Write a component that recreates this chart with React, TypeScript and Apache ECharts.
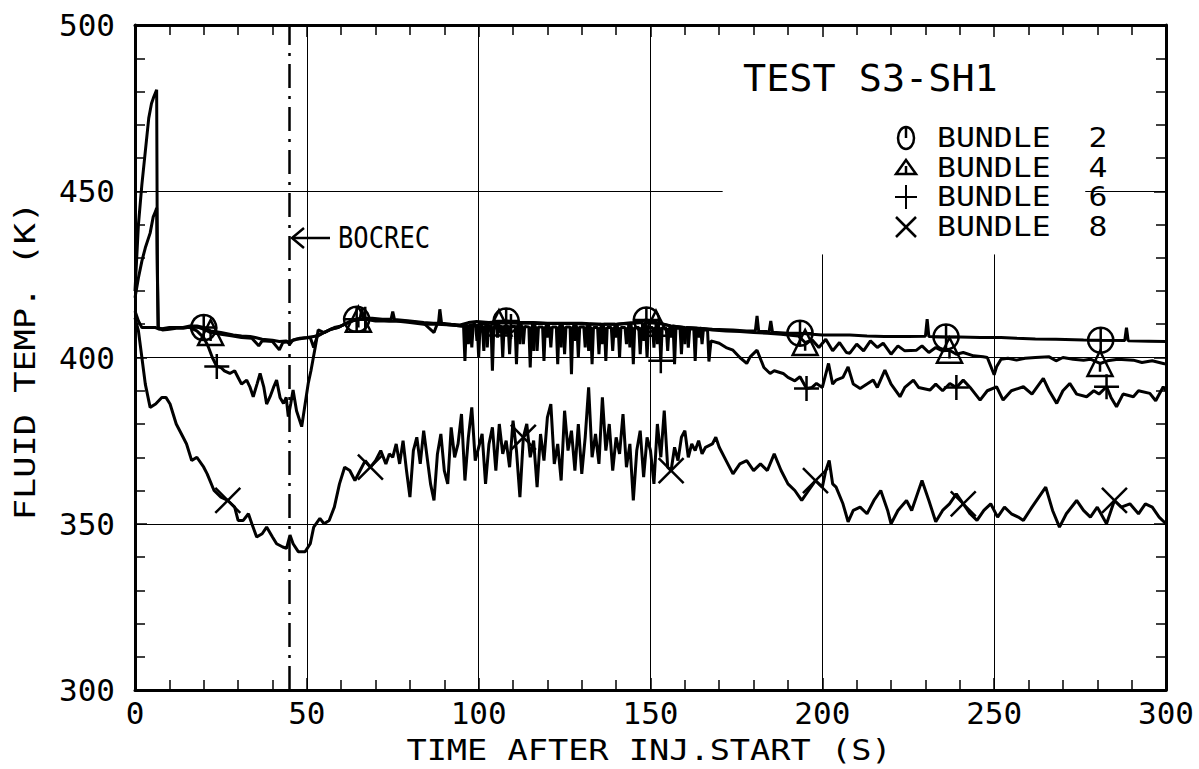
import React, { useEffect, useRef } from "react";
import * as echarts from "echarts";

const FONT = '"DejaVu Sans Mono", monospace';

// ---- data (time s, fluid temperature K) ----
const bundle2: number[][] = [
  [0, 420], [1, 440], [2, 452], [3, 462], [4, 472], [4.8, 476.4], [5.5, 478.5], [6.3, 480.5], [6.5, 430], [6.7, 408.9],
  [8, 408.5], [10, 408.7], [12, 409], [14, 409], [16, 409.5], [18, 409.5], [20, 409], [22, 408], [25, 407.5], [28.6, 406.8],
  [31, 406.5], [33.5, 406.3], [35, 406], [37, 405.5], [40, 405.2], [42, 404.8], [44, 405], [45, 404], [46, 405.3], [48, 405.8],
  [50, 406], [52, 406.3], [54, 407], [56, 408], [58, 409], [60, 409.5], [62, 410.5], [64.5, 411.5], [65.5, 411.8], [66, 414.5],
  [66.5, 411.8], [69, 411.8], [72, 411.5], [74.5, 411.5], [75, 413.8], [75.5, 411.4], [77, 411.3], [80, 411], [84, 410.5], [86.8, 410.3],
  [88.3, 410.3], [88.7, 414.5], [89.2, 410.3], [92, 410], [94.6, 409.8], [97, 410.5], [99.4, 410.8], [103, 410.5], [108, 411], [112, 410.5],
  [116, 410.5], [120, 410.3], [125.6, 410.3], [130, 410.3], [135, 410], [140, 410], [145, 410.5], [148.8, 411.3], [152, 410.5], [156, 409.5],
  [160, 409], [164, 408.8], [168, 408.5], [174, 408.3], [178, 408], [180.5, 408], [181, 412.5], [181.5, 407.8], [183.7, 407.8], [184.5, 407.7],
  [185, 411], [185.5, 407.6], [190, 407.3], [193.5, 407.3], [197, 407], [200, 406.8], [205, 406.8], [208, 406.8], [213, 406.5], [218, 406.3],
  [225, 406.3], [230, 406.4], [230.5, 411.5], [231, 406.3], [236, 406.2], [240, 406.2], [246, 406], [252, 406], [256.5, 405.8], [262, 405.6],
  [268, 405.5], [276, 405.3], [281, 405.2], [288, 405.1], [288.5, 409], [289, 405], [295, 404.9], [300, 404.8],
];

const bundle4: number[][] = [
  [0, 418], [1, 424], [2, 429], [3, 433], [4.4, 437.4], [5.3, 442.3], [6, 444], [6.3, 445], [6.5, 425], [6.8, 409],
  [8, 408.3], [10, 408.5], [12, 408.8], [14, 408.8], [16, 409.2], [18, 409.2], [20, 408.5], [22, 407.5], [25, 407], [28, 406.5],
  [31, 406], [34, 405.8], [36, 403.5], [37, 405], [40, 404.8], [42, 402.3], [43, 404.5], [45, 404.8], [47, 405.5], [49, 405.8],
  [51, 406], [52, 403], [53, 406.3], [55, 407.5], [57, 408.5], [59, 409], [61, 410], [63, 411], [65, 411.5], [68, 411.5],
  [71, 411.3], [74, 411], [77, 411], [80, 410.8], [84, 410.3], [87, 407.5], [88, 410.2], [92, 409.8], [95, 409.5],
  [96.6, 409.8], [97, 404], [97.4, 409.8], [99.1, 410], [99.5, 405], [99.9, 410], [102.1, 410.2], [102.5, 403], [102.9, 410.2],
  [105.1, 410.4], [105.5, 406], [105.9, 410.4], [111.6, 410.3], [112, 404], [112.4, 410.3], [115.6, 410.3], [116, 402], [116.4, 410.3],
  [119.6, 410.2], [120, 406], [120.4, 410.2], [123.6, 410.2], [124, 403], [124.4, 410.2], [127.6, 410.2], [128, 405], [128.4, 410.2],
  [131.6, 410], [132, 402], [132.4, 410], [135.6, 410], [136, 404], [136.4, 410], [139.6, 410], [140, 406], [140.4, 410],
  [143.6, 410.2], [144, 403], [144.4, 410.2], [147.6, 410.5], [148, 405], [148.4, 410.5], [151.6, 410.3], [152, 404], [152.4, 410.3],
  [155.6, 409.5], [156, 406], [156.4, 409.5], [159.6, 409], [160, 404], [160.4, 409], [163.6, 408.8], [164, 406], [164.4, 408.8],
  [168, 408.3], [172, 408], [176, 407.8], [180, 407.5], [184, 407.3],
  [188, 407], [190, 406.8], [193, 406.5], [195, 404.5], [197, 405.3], [199, 403], [201, 405.5], [203, 402], [205, 404.5], [207, 401.5],
  [208, 401.3], [210, 404], [212, 402], [214, 405], [216, 403], [217.7, 404.3], [220, 401], [222, 403.5], [224, 402], [227.4, 402.2],
  [229, 403.5], [231, 401.5], [233, 403], [235, 402], [237, 402.2], [239, 401], [241, 401.5], [244, 400.5], [246.8, 400.2], [248, 400],
  [250, 394.8], [250.7, 397.2], [252, 399.5], [254, 399.8], [256.5, 399.2], [259, 399.8], [262, 400], [266, 400.2], [268, 399], [270, 400],
  [273, 399.5], [276, 399.2], [278, 399.5], [280.8, 398.2], [283, 399], [286, 399.5], [290.5, 399.2], [293, 398.5], [296, 399], [299.2, 398.2],
  [300, 398],
];

const bundle6: number[][] = [
  [0, 414], [1, 411], [2, 409], [4, 409], [6, 409], [7, 408.5], [10, 409], [13, 409], [16, 409], [18, 408],
  [20, 406], [21.3, 403.3], [22.5, 400], [23.8, 397.3], [25, 397], [26, 396], [27.6, 395.2], [29, 396], [30, 394], [31, 392],
  [32.5, 393.2], [33.5, 391], [34.4, 388.2], [35.5, 392], [36.4, 395.2], [37.5, 391], [38.3, 386], [39.3, 388.2], [40.3, 391], [41.2, 393.2],
  [42.2, 388], [43.2, 386.2], [44, 388], [44.6, 382.2], [45.3, 386], [46, 390.2], [47, 384], [48.5, 379.2], [49.5, 386], [50.4, 392.2],
  [51.2, 396], [51.9, 400], [52.6, 404], [53.3, 408.3], [55, 407.5], [57, 408.5], [59, 409], [61, 410], [63, 411], [65, 411.5],
  [67, 411.5], [70, 411], [73, 411], [76, 411], [80, 410.5], [84, 410], [88, 410], [92, 409.8], [95, 409.5],
  [95.6, 409.5], [96, 399], [96.4, 409.5], [97.6, 409.5], [98, 403], [98.4, 409.5], [99.6, 409.5], [100, 400], [100.4, 409.5],
  [101.1, 409.5], [101.5, 402], [101.9, 409.5], [103.6, 409.3], [104, 396], [104.4, 409.3], [106.6, 409.3], [107, 400], [107.4, 409.3],
  [108.6, 409.3], [109, 401], [109.4, 409.3], [110.6, 409.3], [111, 398], [111.4, 409.3], [112.6, 409.3], [113, 404], [113.4, 409.3],
  [114.6, 409.2], [115, 397], [115.4, 409.2], [116.6, 409.2], [117, 402], [117.4, 409.2], [118.6, 409.2], [119, 399], [119.4, 409.2],
  [120.6, 409.2], [121, 403], [121.4, 409.2], [122.6, 409.2], [123, 398], [123.4, 409.2], [124.6, 409.2], [125, 401], [125.4, 409.2],
  [126.6, 409.2], [127, 395], [127.4, 409.2], [128.6, 409.2], [129, 400], [129.4, 409.2], [130.6, 409.2], [131, 403], [131.4, 409.2],
  [132.6, 409], [133, 398], [133.4, 409], [134.6, 409], [135, 401], [135.4, 409], [136.6, 409], [137, 399], [137.4, 409],
  [138.6, 409], [139, 402], [139.4, 409], [140.6, 409], [141, 400], [141.4, 409], [142.6, 409], [143, 404], [143.4, 409],
  [144.6, 409], [145, 398], [145.4, 409], [146.6, 409], [147, 401], [147.4, 409], [148.6, 409], [149, 400], [149.4, 409],
  [150.6, 409], [151, 403], [151.4, 409], [152.6, 409], [153, 399], [153.4, 409], [154.6, 408.8], [155, 402], [155.4, 408.8],
  [156.6, 408.8], [157, 398], [157.4, 408.8], [158.6, 408.8], [159, 401], [159.4, 408.8], [160.6, 408.6], [161, 403], [161.4, 408.6],
  [162.6, 408.6], [163, 399], [163.4, 408.6], [164.6, 408.5], [165, 404], [165.4, 408.5], [166.6, 408.3], [167, 398.8], [167.6, 405],
  [170, 404.3], [172, 403], [174, 402.2], [176, 400], [178, 398.2], [179, 400.2], [181, 402.2], [183, 397],
  [184.8, 395.2], [186, 396], [188.6, 395.2], [190, 394], [192, 393], [193.5, 394.2], [195.4, 390.7], [197, 391], [198.3, 392.2], [200, 391],
  [201.8, 398.2], [203, 392], [204, 393.2], [206, 394], [207.5, 397.2], [209, 392], [211, 390.7], [213, 392], [214.8, 393.2], [216, 391],
  [218.2, 396.2], [220, 392], [222.6, 388.2], [224, 391], [226.5, 393.2], [228, 391], [231.3, 390.2], [233, 392], [235, 390], [237.1, 392.2],
  [239, 391], [241, 393.2], [243, 391], [245.9, 387.2], [248, 390], [250.7, 391.2], [252.6, 387.2], [255, 390], [258.5, 391.2], [261, 389],
  [264.3, 393.7], [266, 390], [268.2, 386.2], [270, 390], [272, 392.2], [274, 389], [276.9, 388.2], [279, 390], [280.5, 389], [282.7, 391.2],
  [284, 388], [285.6, 385.2], [287.5, 389], [290.5, 388.2], [292, 390], [295.3, 389.2], [297, 387], [299.2, 391.2], [300, 390],
];

const bundle8: number[][] = [
  [0, 412], [1, 408], [2, 400], [3, 392], [4.4, 385], [6, 386], [7.8, 388], [9, 388], [10.2, 386], [12, 380],
  [14, 376], [15, 374], [16.5, 369], [18, 370], [20, 367], [21, 365], [23, 360], [25, 358], [27, 357], [29, 355],
  [30, 351], [31.5, 351], [33, 353], [34, 350], [35.4, 346], [37, 347], [38.3, 349], [40, 346], [41.2, 344], [43, 343],
  [44.1, 342.6], [45.1, 346.6], [46, 344], [47.5, 341.6], [49.5, 341.6], [51, 344], [52, 349], [53.8, 351.6], [55, 350], [56.5, 351],
  [58, 355], [59.5, 362], [61, 367], [62.5, 366], [64, 363], [65.5, 366], [67, 369], [68.5, 367], [70, 369], [71.5, 372],
  [73, 368], [74, 371], [75, 370], [76, 374], [77, 368], [78, 375], [79, 366], [80, 358], [81, 372], [82, 376],
  [83, 368], [84, 378], [85, 370], [86, 362], [87, 357], [88, 371], [89, 377], [90, 366], [91, 362], [92, 379],
  [93, 370], [94, 374], [95, 383], [96, 363], [97, 376], [98, 385], [99, 369], [100, 373], [101, 377], [102, 362],
  [103, 374], [104, 379], [105, 366], [106, 380], [107, 371], [108, 375], [109, 367], [110, 381], [111, 372], [112, 358],
  [113, 376], [114, 380], [115, 370], [116, 375], [117, 361], [118, 377], [119, 369], [120, 382], [121, 386], [122, 368],
  [123, 374], [124, 363], [125, 384], [126, 372], [127, 378], [128, 366], [129, 380], [130, 365], [131, 376], [132, 391],
  [133, 370], [134, 377], [135, 368], [136, 388], [137, 372], [138, 380], [139, 366], [140, 376], [141, 371], [142, 383],
  [143, 367], [144, 374], [145, 357], [146, 372], [147, 378], [148, 364], [149, 376], [150, 372], [151, 362], [152, 380],
  [153, 370], [154, 384], [155, 367], [156, 366], [157, 373], [158, 369], [159, 376], [160, 378], [161, 370], [162, 374],
  [163, 372], [164, 375], [165, 371], [166, 373], [168, 374], [169, 376], [170, 373], [172, 369], [174, 365], [176, 368],
  [178, 369], [180, 366], [182, 368], [184, 366], [186, 371], [188, 366], [190, 362], [192, 360], [194, 357], [196, 360],
  [198, 363], [200, 361], [201, 366], [202, 369], [203, 362], [204, 361], [206, 356], [207.5, 350.6], [209, 354], [211, 355],
  [213, 353], [215, 357], [217, 360], [219, 354], [220, 350], [222, 354], [224.5, 357], [226, 354], [229, 363], [231, 357],
  [233, 350.6], [235, 354], [237, 356], [239, 359], [241, 356], [243, 353], [245, 351], [247, 354], [249, 356], [251, 352],
  [253, 355], [255, 353], [257, 352], [258.5, 351], [261, 355], [263, 358], [265, 361], [267, 354], [269, 349], [271, 353],
  [274, 357], [276, 354], [278, 352], [280, 355], [282.7, 350], [285, 357], [287, 355], [289.5, 356], [292, 353], [294, 356],
  [296, 355], [298, 352], [300, 350],
];

// times where the plotter drew each bundle's symbol
const bundle2MarkTimes = [21, 64.5, 107.5, 150, 193.5, 236.5, 279];
const bundle4MarkTimes = [22, 65.5, 108.5, 151, 194.5, 237.5, 280.5];
const bundle6MarkTimes = [23.8, 67, 110, 153, 196, 239.5, 282.5];
const bundle8MarkTimes = [27, 69, 113.5, 156, 198.5, 241, 284.5];

const seriesNames = ["BUNDLE 2", "BUNDLE 4", "BUNDLE 6", "BUNDLE 8"];
const bocrecTime = 45;

const xTicks = [0, 50, 100, 150, 200, 250, 300];
const yTicks = [300, 350, 400, 450, 500];

// symbol shapes on the curves
const markerSymbols = [
  "path://M10,0 A10,10 0 1,1 9.99,0 Z M10,0 L10,20 M0,10 L20,10",
  "path://M10,1 L20,19 L0,19 Z M10,9 L10,16",
  "path://M10,0 L10,20 M0,10 L20,10",
  "path://M0,0 L20,20 M20,0 L0,20",
];

function nearest(data: number[][], t: number): number[] {
  let best = data[0];
  for (const p of data) if (Math.abs(p[0] - t) < Math.abs(best[0] - t)) best = p;
  return best;
}

export default function App() {
  const ref = useRef<HTMLDivElement>(null);
  useEffect(() => {
    if (!ref.current) return;
    const chart = echarts.init(ref.current, null, { renderer: "svg" });
    const all = [bundle2, bundle4, bundle6, bundle8];
    const markTimes = [bundle2MarkTimes, bundle4MarkTimes, bundle6MarkTimes, bundle8MarkTimes];
    const stroke = { color: "rgba(0,0,0,0)", borderColor: "#000", borderWidth: 2.5, opacity: 1 };

    const lineSeries = all.map((d, i) => ({
      type: "line",
      name: seriesNames[i],
      data: d,
      showSymbol: false,
      symbol: "none",
      lineStyle: { color: "#000", width: 3 },
      itemStyle: { color: "#000" },
      z: 4,
    }));
    const markSeries = all.map((d, i) => ({
      type: "scatter",
      name: seriesNames[i],
      data: markTimes[i].map((t) => nearest(d, t)),
      symbol: markerSymbols[i],
      symbolSize: 25,
      itemStyle: stroke,
      z: 5,
    }));

    const gridLine = (a: number[], b: number[]) => [{ coord: a }, { coord: b }];
    const helper = {
      type: "line",
      name: "grid",
      data: [],
      z: 1,
      markLine: {
        silent: true,
        symbol: ["none", "none"],
        label: { show: false },
        lineStyle: { color: "#000", width: 1, type: "solid" },
        data: [
          gridLine([xTicks[1], 300], [xTicks[1], 500]),
          gridLine([xTicks[2], 300], [xTicks[2], 500]),
          gridLine([xTicks[3], 300], [xTicks[3], 500]),
          gridLine([xTicks[4], 300], [xTicks[4], 431]),
          gridLine([xTicks[5], 300], [xTicks[5], 431]),
          gridLine([0, yTicks[1]], [300, yTicks[1]]),
          gridLine([0, yTicks[2]], [300, yTicks[2]]),
          gridLine([0, yTicks[3]], [171, yTicks[3]]),
          gridLine([276.5, yTicks[3]], [300, yTicks[3]]),
        ],
      },
    };
    const bocrec = {
      type: "line",
      name: "bocrec",
      data: [],
      z: 3,
      markLine: {
        silent: true,
        symbol: ["none", "none"],
        label: { show: false },
        lineStyle: { color: "#000", width: 2.5, type: [24, 8, 3, 8] },
        data: [gridLine([bocrecTime, 300], [bocrecTime, 500])],
      },
    };

    const axisCommon = {
      type: "value",
      axisLine: { show: true, onZero: false, lineStyle: { color: "#000", width: 3 } },
      axisTick: { show: true, inside: true, length: 12, lineStyle: { color: "#000", width: 1.5 } },
      minorTick: { show: true, splitNumber: 5, length: 10, lineStyle: { color: "#000", width: 1.5 } },
      splitLine: { show: false },
    };

    // legend block (drawn as graphic so that its rows can sit as tightly as the plotter's)
    const legRowY = [138, 168, 197, 227];
    const symX = 906;
    const sStyle = { stroke: "#000", lineWidth: 2.5, fill: null };
    const legendGraphics: any[] = [
      { type: "ellipse", shape: { cx: symX, cy: legRowY[0], rx: 8, ry: 11 }, style: sStyle },
      { type: "line", shape: { x1: symX, y1: legRowY[0] - 11, x2: symX, y2: legRowY[0] }, style: sStyle },
      { type: "polygon", shape: { points: [[symX, legRowY[1] - 8], [symX + 10, legRowY[1] + 6], [symX - 10, legRowY[1] + 6]] }, style: sStyle },
      { type: "line", shape: { x1: symX, y1: legRowY[1] - 2, x2: symX, y2: legRowY[1] + 5 }, style: sStyle },
      { type: "line", shape: { x1: symX - 11, y1: legRowY[2], x2: symX + 11, y2: legRowY[2] }, style: { ...sStyle, lineWidth: 2 } },
      { type: "line", shape: { x1: symX, y1: legRowY[2] - 12, x2: symX, y2: legRowY[2] + 12 }, style: { ...sStyle, lineWidth: 2 } },
      { type: "line", shape: { x1: symX - 10, y1: legRowY[3] - 10, x2: symX + 10, y2: legRowY[3] + 10 }, style: sStyle },
      { type: "line", shape: { x1: symX + 10, y1: legRowY[3] - 10, x2: symX - 10, y2: legRowY[3] + 10 }, style: sStyle },
      ...seriesNames.map((n, i) => ({
        type: "text",
        x: 937,
        y: legRowY[i],
        scaleX: 1.21,
        style: {
          text: n.replace(" ", "\u00a0\u00a0"),
          fontFamily: FONT,
          fontSize: 26,
          fill: "#000",
          textAlign: "left",
          textVerticalAlign: "middle",
        },
      })),
    ];

    chart.setOption({
      animation: false,
      backgroundColor: "#fff",
      grid: { left: 135, right: 33, top: 25, bottom: 79 },
      xAxis: [
        {
          ...axisCommon,
          position: "bottom",
          min: 0,
          max: 300,
          interval: 50,
          axisLabel: { color: "#000", fontFamily: FONT, fontSize: 31, margin: 7 },
        },
        { ...axisCommon, position: "top", min: 0, max: 300, interval: 50, axisLabel: { show: false } },
      ],
      yAxis: [
        {
          ...axisCommon,
          position: "left",
          min: 300,
          max: 500,
          interval: 50,
          axisLabel: { color: "#000", fontFamily: FONT, fontSize: 31, margin: 20 },
        },
        { ...axisCommon, position: "right", min: 300, max: 500, interval: 50, axisLabel: { show: false } },
      ],
      graphic: [
        {
          type: "text",
          x: 743,
          y: 78,
          scaleX: 1.04,
          style: { text: "TEST S3-SH1", fontFamily: FONT, fontSize: 37, fill: "#000", textAlign: "left", textVerticalAlign: "middle" },
        },
        {
          type: "text",
          x: 338,
          y: 238,
          scaleX: 0.85,
          style: { text: "BOCREC", fontFamily: FONT, fontSize: 30, fill: "#000", textAlign: "left", textVerticalAlign: "middle" },
        },
        { type: "line", shape: { x1: 293, y1: 238, x2: 330, y2: 238 }, style: { stroke: "#000", lineWidth: 2.5 } },
        {
          type: "polyline",
          shape: { points: [[304, 228], [292, 238], [304, 248]] },
          style: { stroke: "#000", lineWidth: 2.5, fill: null },
        },
        {
          type: "text",
          x: 649,
          y: 750,
          scaleX: 1.2,
          style: { text: "TIME AFTER INJ.START (S)", fontFamily: FONT, fontSize: 28, fill: "#000", textAlign: "center", textVerticalAlign: "middle" },
        },
        {
          type: "text",
          x: 25,
          y: 361,
          rotation: Math.PI / 2,
          scaleX: 1.26,
          style: { text: "FLUID TEMP. (K)", fontFamily: FONT, fontSize: 28, fill: "#000", textAlign: "center", textVerticalAlign: "middle" },
        },
        ...legendGraphics,
      ],
      series: [helper, bocrec, ...lineSeries, ...markSeries],
    });
    return () => chart.dispose();
  }, []);
  return <div ref={ref} style={{ position: "fixed", left: 0, top: 0, width: 1199, height: 769, background: "#fff" }} />;
}
